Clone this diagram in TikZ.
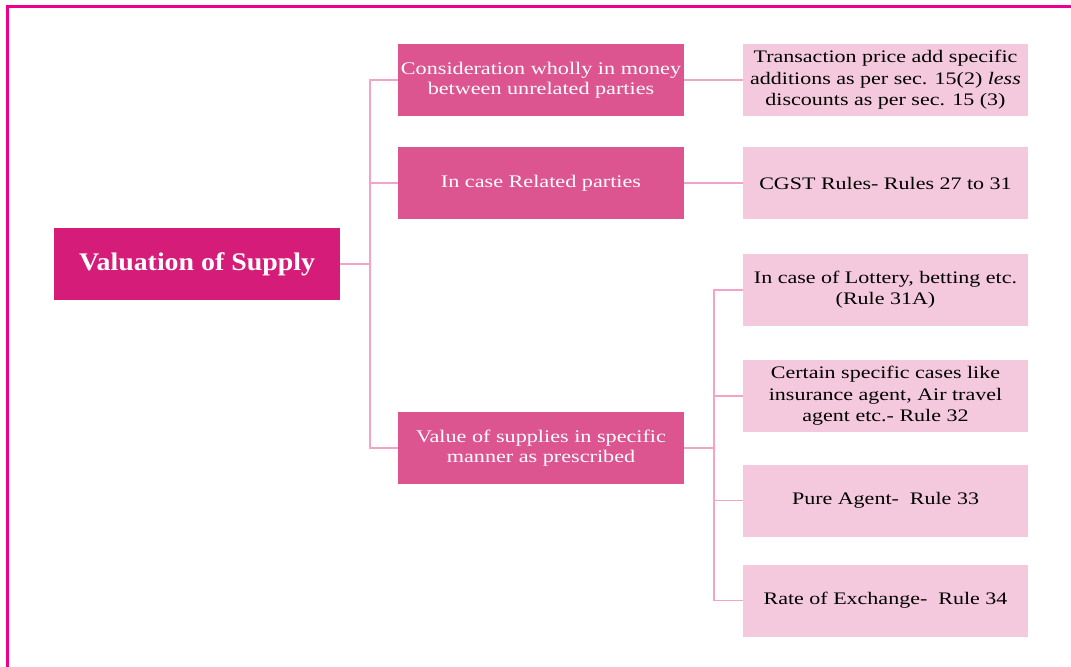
\documentclass[tikz,border=0pt]{standalone}
\usepackage{fontspec}
\setmainfont{Liberation Serif}
\newfontfamily\widefont[FakeStretch=1.25]{Liberation Serif}
\newfontfamily\rootfont[FakeStretch=1.1]{Liberation Serif}
\usepackage{xcolor}
\definecolor{vizFrame}{HTML}{EC008C}
\definecolor{vizRoot}{HTML}{D41C78}
\definecolor{vizMid}{HTML}{DC5590}
\definecolor{vizLeaf}{HTML}{F5C9DD}
\definecolor{vizLink}{HTML}{F3A3C7}

\tikzset{
  rootbox/.style={fill=vizRoot, text=white, inner sep=0pt,
    minimum width=214.5pt, minimum height=54pt,
    font=\rootfont\fontsize{19}{22}\selectfont\bfseries},
  midbox/.style={fill=vizMid, text=white, inner sep=0pt, align=center,
    minimum width=214.5pt, minimum height=54pt,
    font=\widefont\fontsize{13.3}{15}\selectfont},
  leafbox/.style={fill=vizLeaf, text=black, inner sep=0pt, align=center,
    minimum width=213.75pt, minimum height=54pt,
    font=\widefont\fontsize{13.2}{16}\selectfont},
  link/.style={draw=vizLink, line width=1pt}
}

\begin{document}
\begin{tikzpicture}[x=0.75pt, y=-0.75pt]
  \useasboundingbox (0,0) rectangle (1071,667);
  \draw[vizFrame, line width=2.25pt] (7,667) -- (7,7) -- (1071,7);

  \node[rootbox] (root) at (197,264) {Valuation of Supply};

  \node[midbox] (money) at (541,80) {Consideration wholly in money\\between unrelated parties};
  \node[midbox] (related) at (541,183) {In case Related parties};
  \node[midbox] (manner) at (541,448) {Value of supplies in specific\\manner as prescribed};

  \node[leafbox] (price) at (885.5,80) {Transaction price add specific\\additions as per sec. 15(2) \textit{less}\\discounts as per sec. 15 (3)};
  \node[leafbox] (cgst) at (885.5,183) {CGST Rules- Rules 27 to 31};
  \node[leafbox] (lottery) at (885.5,290) {In case of Lottery, betting etc.\\(Rule 31A)};
  \node[leafbox] (agent) at (885.5,396) {Certain specific cases like\\insurance agent, Air travel\\agent etc.- Rule 32};
  \node[leafbox] (pure) at (885.5,500.5) {Pure Agent-\ \ Rule 33};
  \node[leafbox] (rate) at (885.5,600.5) {Rate of Exchange-\ \ Rule 34};

  \coordinate (fork) at (370,264);
  \coordinate (fork2) at (714,448);

  \draw[link] (root.east) -- (fork);
  \draw[link] (fork) |- (money.west);
  \draw[link] (fork) |- (related.west);
  \draw[link] (fork) |- (manner.west);
  \draw[link] (money.east) -- (price.west);
  \draw[link] (related.east) -- (cgst.west);

  \draw[link] (manner.east) -- (fork2);
  \draw[link] (fork2) |- (lottery.west);
  \draw[link] (fork2) |- (agent.west);
  \draw[link] (fork2) |- (pure.west);
  \draw[link] (fork2) |- (rate.west);
\end{tikzpicture}
\end{document}
